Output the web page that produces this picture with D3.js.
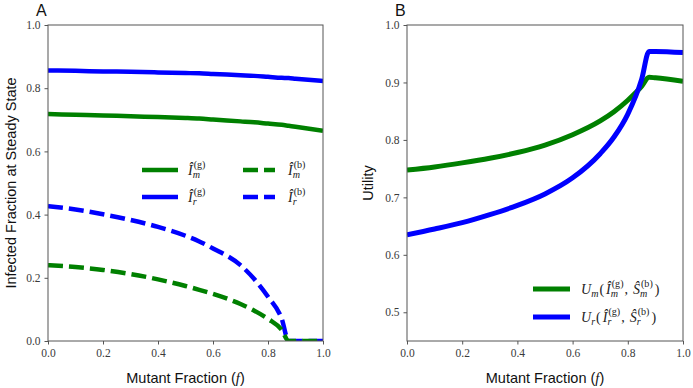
<!DOCTYPE html>
<html>
<head>
<meta charset="utf-8">
<script src="https://cdn.jsdelivr.net/npm/d3@7"></script>
<style>
  body { margin: 0; background: #fff; }
  svg { display: block; }
  .tick text { font-family: "Liberation Serif", serif; font-size: 11.5px; fill: #3a3a3a; }
  .axis-label { font-family: "Liberation Sans", Arial, sans-serif; font-size: 14.5px; fill: #111; }
  .panel-title { font-family: "Liberation Sans", Arial, sans-serif; font-size: 16px; fill: #111; }
  .math { font-family: "Liberation Serif", serif; fill: #222; }
</style>
</head>
<body>
<div id="chart"></div>
<script>
// ---- data ----
const fA = [0, 0.1, 0.2, 0.3, 0.4, 0.5, 0.55, 0.6, 0.7, 0.75, 0.8, 0.85, 0.875, 0.9, 1.0];
const ImGood = [0.718, 0.716, 0.714, 0.711, 0.709, 0.706, 0.704, 0.701, 0.695, 0.692, 0.688, 0.684, 0.681, 0.678, 0.665];
const IrGood = [0.856, 0.855, 0.853, 0.852, 0.850, 0.848, 0.847, 0.845, 0.841, 0.839, 0.836, 0.833, 0.832, 0.830, 0.823];
const ImBad = [0.240, 0.234, 0.225, 0.212, 0.195, 0.174, 0.162, 0.149, 0.117, 0.096, 0.070, 0.035, 0, 0, 0];
const IrBad = [0.427, 0.416, 0.401, 0.383, 0.361, 0.333, 0.315, 0.293, 0.240, 0.196, 0.140, 0.070, 0, 0, 0];

const fB = [0, 0.1, 0.2, 0.3, 0.4, 0.5, 0.6, 0.7, 0.75, 0.8, 0.85, 0.877, 0.9, 1.0];
const Um = [0.7475, 0.753, 0.760, 0.768, 0.778, 0.791, 0.809, 0.833, 0.849, 0.869, 0.893, 0.909, 0.908, 0.902];
const Ur = [0.635, 0.645, 0.656, 0.670, 0.686, 0.706, 0.734, 0.776, 0.805, 0.845, 0.905, 0.954, 0.954, 0.952];

const xTicks = [0, 0.2, 0.4, 0.6, 0.8, 1.0];
const yTicksA = [0, 0.2, 0.4, 0.6, 0.8, 1.0];
const yTicksB = [0.5, 0.6, 0.7, 0.8, 0.9, 1.0];

const green = "#008000";
const blue = "#0000ff";

const W = 693, H = 388;
const svg = d3.select("#chart").append("svg").attr("width", W).attr("height", H);

function panel(left, right, top, bottom, yDomain, yTicks, title, ylabel, ylabelX) {
  const x = d3.scaleLinear().domain([0, 1]).range([left, right]);
  const y = d3.scaleLinear().domain(yDomain).range([bottom, top]);
  const fmt = d3.format(".1f");

  svg.append("g")
    .attr("transform", "translate(0," + bottom + ")")
    .call(d3.axisBottom(x).tickValues(xTicks).tickFormat(fmt).tickSize(3.5).tickPadding(4))
    .call(g => g.select(".domain").remove())
    .call(g => g.selectAll(".tick line").attr("stroke", "#555"));
  svg.append("g")
    .attr("transform", "translate(" + left + ",0)")
    .call(d3.axisLeft(y).tickValues(yTicks).tickFormat(fmt).tickSize(3.5).tickPadding(4))
    .call(g => g.select(".domain").remove())
    .call(g => g.selectAll(".tick line").attr("stroke", "#555"));

  svg.append("text").attr("class", "panel-title")
    .attr("x", left - 12).attr("y", 16).text(title);

  const xl = svg.append("text").attr("class", "axis-label")
    .attr("x", (left + right) / 2).attr("y", 383).attr("text-anchor", "middle");
  xl.append("tspan").text("Mutant Fraction (");
  xl.append("tspan").attr("font-family", "Liberation Serif, serif").attr("font-style", "italic").text("f");
  xl.append("tspan").text(")");

  svg.append("text").attr("class", "axis-label")
    .attr("transform", "translate(" + ylabelX + "," + ((top + bottom) / 2) + ") rotate(-90)")
    .attr("text-anchor", "middle").attr("dy", "0.35em").text(ylabel);

  return { x, y, frame: () => svg.append("rect")
    .attr("x", left).attr("y", top).attr("width", right - left).attr("height", bottom - top)
    .attr("fill", "none").attr("stroke", "#555").attr("stroke-width", 1) };
}

function drawLine(p, xs, ys, color, width, dash, clipId) {
  const line = d3.line()
    .x((d, i) => p.x(xs[i]))
    .y(d => p.y(d))
    .curve(d3.curveMonotoneX);
  svg.append("path")
    .datum(ys)
    .attr("d", line)
    .attr("fill", "none")
    .attr("stroke", color)
    .attr("stroke-width", width)
    .attr("stroke-dasharray", dash)
    .attr("clip-path", "url(#" + clipId + ")");
}

// math-style label: tokens of {t, sub, sup, it}
function mathLabel(x, y, tokens, size) {
  let cx = x;
  tokens.forEach(tok => {
    const base = svg.append("text").attr("class", "math")
      .attr("x", cx).attr("y", y).attr("font-size", size)
      .attr("font-style", tok.it ? "italic" : "normal").text(tok.t);
    let w = base.node().getComputedTextLength();
    let adv = w;
    if (tok.sub) {
      const s = svg.append("text").attr("class", "math")
        .attr("x", cx + w).attr("y", y + 3.5).attr("font-size", size * 0.72)
        .attr("font-style", "italic").text(tok.sub);
      adv = Math.max(adv, w + s.node().getComputedTextLength());
    }
    if (tok.sup) {
      const s = svg.append("text").attr("class", "math")
        .attr("x", cx + w + 1).attr("y", y - 6.5).attr("font-size", size * 0.72)
        .attr("font-style", "normal").text(tok.sup);
      adv = Math.max(adv, w + 1 + s.node().getComputedTextLength());
    }
    cx += adv + (tok.gap || 1);
  });
}

const defs = svg.append("defs");

// ---- panel A ----
const pA = panel(48, 323, 25, 341, [0, 1], yTicksA, "A", "Infected Fraction at Steady State", 11);
defs.append("clipPath").attr("id", "clipA").append("rect")
  .attr("x", 48).attr("y", 25).attr("width", 275).attr("height", 316);
drawLine(pA, fA, IrGood, blue, 4.5, null, "clipA");
drawLine(pA, fA, ImGood, green, 4.5, null, "clipA");
drawLine(pA, fA, IrBad, blue, 4.5, "15,6", "clipA");
drawLine(pA, fA, ImBad, green, 4.5, "15,6", "clipA");
pA.frame();

const legA = [
  { x0: 142, x1: 178, lx: 188, y: 170, c: green, dash: null, sub: "m", sup: "(g)" },
  { x0: 142, x1: 178, lx: 188, y: 197, c: blue, dash: null, sub: "r", sup: "(g)" },
  { x0: 243, x1: 275, lx: 288, y: 170, c: green, dash: "15,6", sub: "m", sup: "(b)" },
  { x0: 243, x1: 275, lx: 288, y: 197, c: blue, dash: "15,6", sub: "r", sup: "(b)" }
];
legA.forEach(d => {
  svg.append("line").attr("x1", d.x0).attr("x2", d.x1).attr("y1", d.y).attr("y2", d.y)
    .attr("stroke", d.c).attr("stroke-width", 4.5).attr("stroke-dasharray", d.dash);
  mathLabel(d.lx, d.y + 4.5, [{ t: "Î", it: true, sub: d.sub, sup: d.sup }], 14);
});

// ---- panel B ----
const pB = panel(407, 683, 25, 341, [0.45, 1], yTicksB, "B", "Utility", 368);
defs.append("clipPath").attr("id", "clipB").append("rect")
  .attr("x", 407).attr("y", 25).attr("width", 276).attr("height", 316);
drawLine(pB, fB, Um, green, 5, null, "clipB");
drawLine(pB, fB, Ur, blue, 5, null, "clipB");
pB.frame();

const legB = [
  { y: 289, c: green, s: "m" },
  { y: 317, c: blue, s: "r" }
];
legB.forEach(d => {
  svg.append("line").attr("x1", 533).attr("x2", 570).attr("y1", d.y).attr("y2", d.y)
    .attr("stroke", d.c).attr("stroke-width", 5);
  mathLabel(581, d.y + 4.5, [
    { t: "U", it: true, sub: d.s },
    { t: "(", gap: 2 },
    { t: "Î", it: true, sub: d.s, sup: "(g)" },
    { t: ",", gap: 5 },
    { t: "Ŝ", it: true, sub: d.s, sup: "(b)", gap: 2 },
    { t: ")" }
  ], 14);
});
</script>
</body>
</html>
